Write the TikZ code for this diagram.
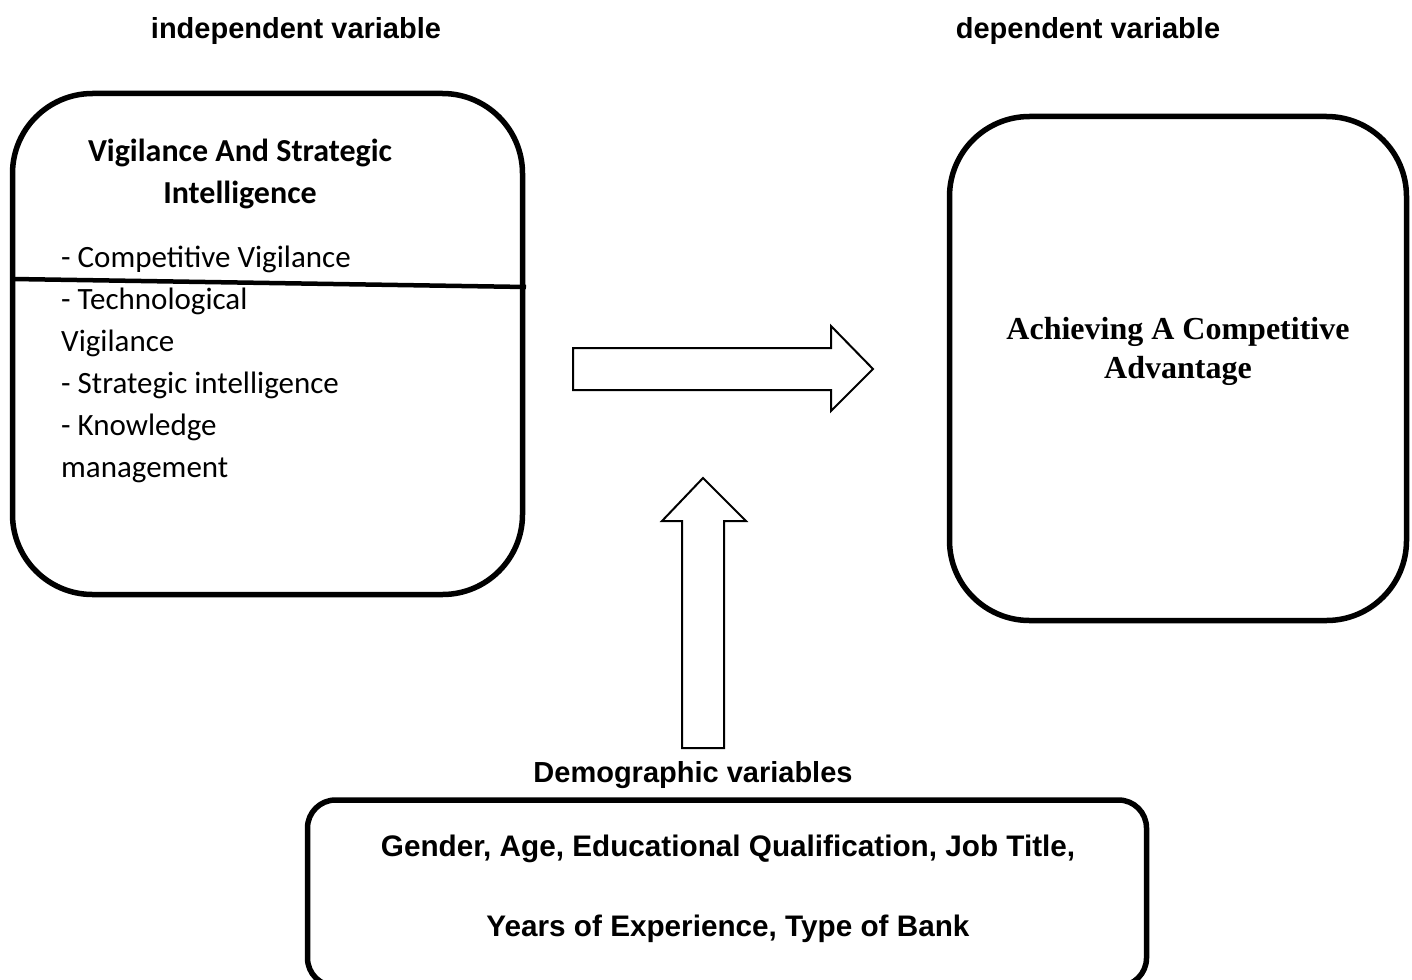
\documentclass[tikz,border=0pt]{standalone}
\usepackage{fontspec}
\setmainfont{Carlito}
\newfontfamily\arialf{Liberation Sans}
\newfontfamily\timesf{Liberation Serif}
\newfontfamily\calf{Carlito}
\tikzset{
  bigbox/.style={draw, line width=5.5pt, rounded corners=80pt, inner sep=0pt},
  demobox/.style={draw, line width=5.5pt, rounded corners=28pt, inner sep=0pt},
  blockarrow/.style={draw, line width=2pt, line join=miter, fill=white},
  lbl/.style={inner sep=0pt, anchor=base, font=\arialf\bfseries\fontsize{29}{35}\selectfont},
  ttl/.style={inner sep=0pt, anchor=base, font=\calf\bfseries\fontsize{32}{42}\selectfont},
  itm/.style={inner sep=0pt, anchor=base west, font=\calf\fontsize{31}{42}\selectfont},
  dep/.style={inner sep=0pt, anchor=base, font=\timesf\bfseries\fontsize{32}{39}\selectfont},
  demo/.style={inner sep=0pt, anchor=base, font=\arialf\bfseries\fontsize{29.7}{35}\selectfont}
}
\begin{document}
\begin{tikzpicture}[x=1pt,y=-1pt]
\useasboundingbox[fill=white] (0,0) rectangle (1412,979);

% labels
\node[lbl] (indlbl) at (296,39) {independent variable};
\node[lbl] (deplbl) at (1088,39) {dependent variable};
\node[lbl] (demolbl) at (693,782) {Demographic variables};

% left box
\node[bigbox, minimum width=510pt, minimum height=501pt] (ind) at (267.5,344) {};
\draw[line width=4.5pt] (13,279) -- (526,287);
\node[ttl] (t1) at (240,161) {Vigilance And Strategic};
\node[ttl] (t2) at (240,203) {Intelligence};
\node[itm] (i1) at (61,267) {- Competitive Vigilance};
\node[itm] (i2) at (61,309) {- Technological};
\node[itm] (i3) at (61,351) {Vigilance};
\node[itm] (i4) at (61,393) {- Strategic intelligence};
\node[itm] (i5) at (61,435) {- Knowledge};
\node[itm] (i6) at (61,477) {management};

% right box
\node[bigbox, minimum width=457pt, minimum height=504pt] (dv) at (1178,368.5) {};
\node[dep] (d1) at (1178,339) {Achieving A Competitive};
\node[dep] (d2) at (1178,378) {Advantage};

% bottom box
\node[demobox, minimum width=839pt, minimum height=186pt] (demo) at (727,893) {};
\node[demo] (g1) at (728,856) {Gender, Age, Educational Qualification, Job Title,};
\node[demo] (g2) at (728,936) {Years of Experience, Type of Bank};

% block arrows
\draw[blockarrow] (573,348) -- (831,348) -- (831,326) -- (873,369) -- (831,411) -- (831,390) -- (573,390) -- cycle;
\draw[blockarrow] (682,748) -- (682,521) -- (662,521) -- (703,478) -- (746,521) -- (724,521) -- (724,748) -- cycle;
\end{tikzpicture}
\end{document}
